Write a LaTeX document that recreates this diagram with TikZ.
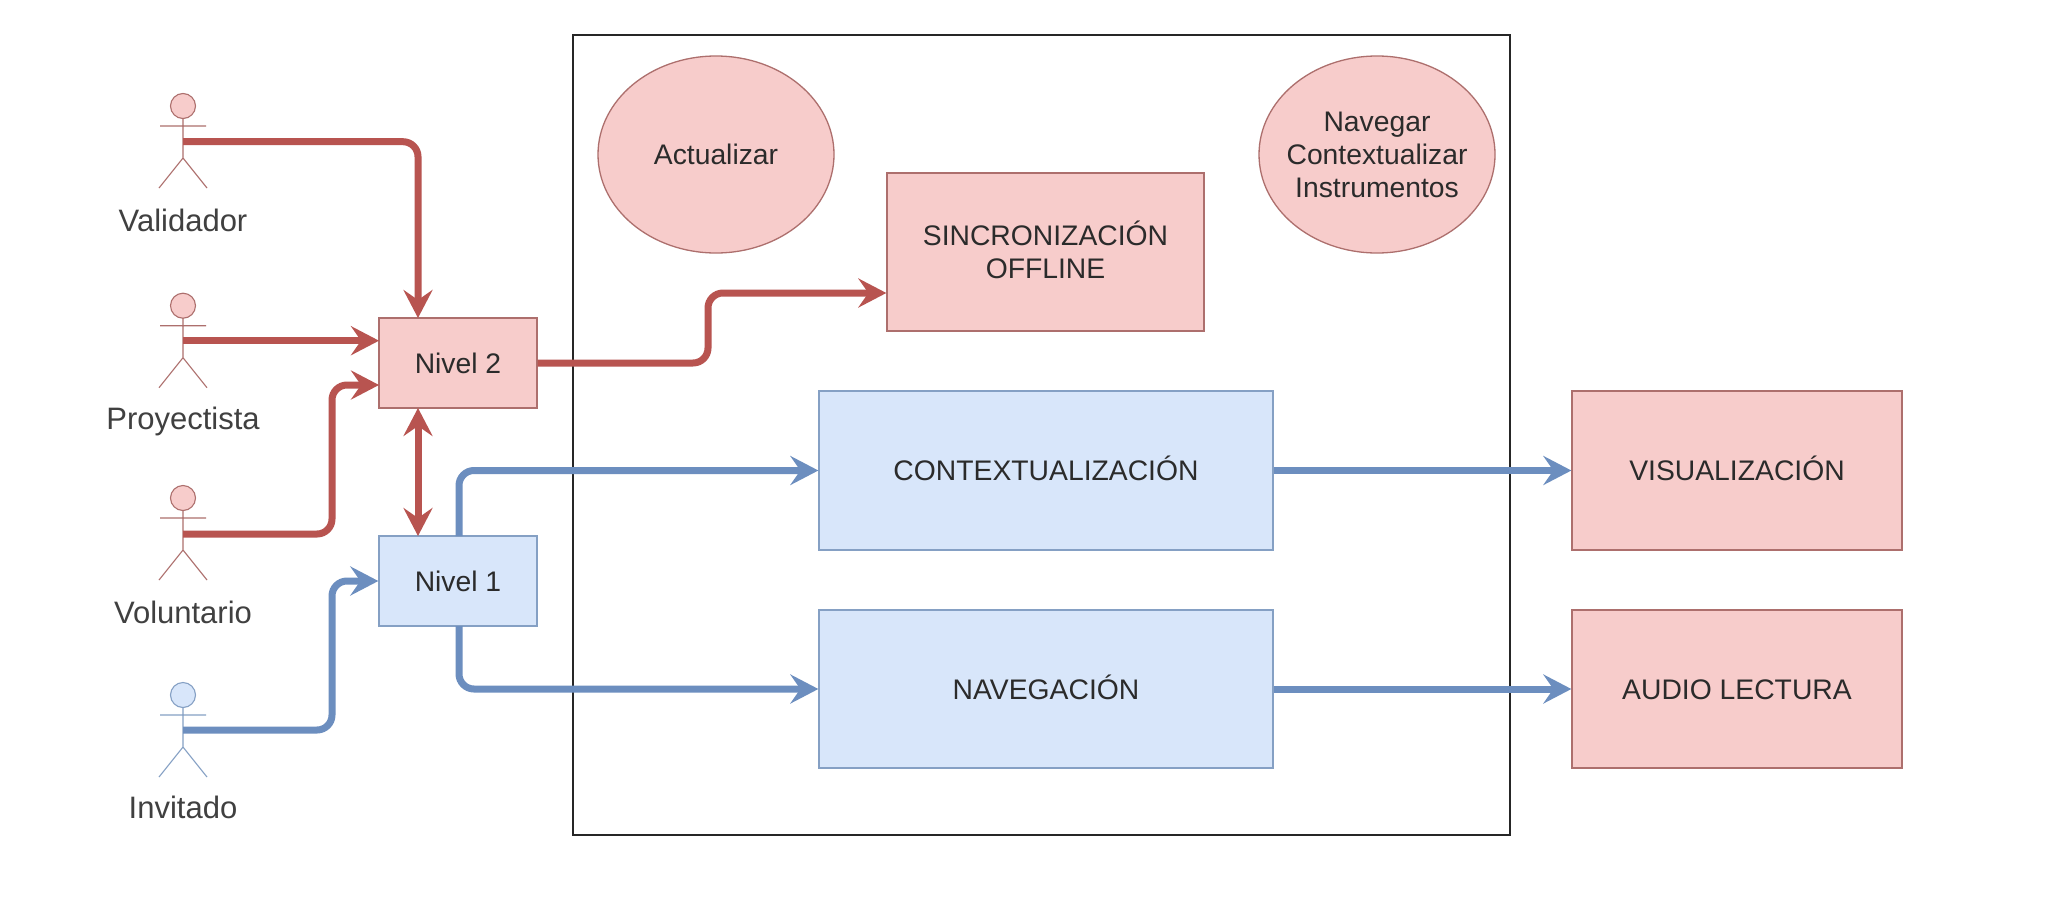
\documentclass[tikz,border=0pt]{standalone}
\usepackage{fontspec}
\setmainfont{Liberation Sans}
\usetikzlibrary{arrows.meta,calc,shapes.geometric}
\definecolor{rfill}{HTML}{F7CCCB}
\definecolor{rline}{HTML}{B85450}
\definecolor{rborder}{HTML}{AD6F6D}
\definecolor{bfill}{HTML}{D8E6FA}
\definecolor{bline}{HTML}{6C8EBF}
\definecolor{bborder}{HTML}{85A0C4}
\definecolor{ink}{HTML}{2B2B2B}
\tikzset{
  x=1pt,y=-1pt,
  every node/.style={text=ink,inner sep=0pt,align=center},
  lab/.style={font=\fontsize{28.3}{33}\selectfont},
  capline/.style={text height=20pt,text depth=0pt},
  actorlab/.style={font=\fontsize{31}{36}\selectfont,text=black!75,anchor=base},
  redbox/.style={draw=rborder,fill=rfill,line width=1.3pt,lab},
  bluebox/.style={draw=bborder,fill=bfill,line width=1.3pt,lab},
  redoval/.style={redbox,ellipse,inner xsep=-20pt,minimum width=236pt,minimum height=197pt},
  rededge/.style={draw=rline,line width=7pt,rounded corners=15pt,
    -{Stealth[length=28pt,width=29pt,inset=10pt]}},
  blueedge/.style={rededge,draw=bline},
  redboth/.style={rededge,{Stealth[length=28pt,width=29pt,inset=10pt]}-{Stealth[length=28pt,width=29pt,inset=10pt]}},
  stick/.style={line width=1.1pt},
}
% #1 x, #2 head centre y, #3 line colour, #4 fill colour
\newcommand{\stickman}[4]{%
  \draw[stick,draw=#3,fill=#4] (#1,#2) circle[radius=12.5];
  \draw[stick,draw=#3] (#1,#2+12.5) -- (#1,#2+52) (#1-23,#2+20) -- (#1+23,#2+20)
     (#1-24,#2+82) -- (#1,#2+52) -- (#1+24,#2+82);
}
\begin{document}
\begin{tikzpicture}
\useasboundingbox (0,0) rectangle (2052,910);
\fill[white] (0,0) rectangle (2052,910);

\node[draw=black!85,line width=1.3pt,minimum width=937pt,minimum height=800pt] (frame) at (1041.5,435) {};

\stickman{183}{106}{rborder}{rfill}
\stickman{183}{305.7}{rborder}{rfill}
\stickman{183}{498}{rborder}{rfill}
\stickman{183}{695}{bborder}{bfill}

\coordinate (val) at (183,141.7);
\coordinate (pro) at (183,340.7);
\coordinate (vol) at (183,534);
\coordinate (inv) at (183,730);

\node[actorlab] (tval) at (183,231) {Validador};
\node[actorlab] (tpro) at (183,429) {Proyectista};
\node[actorlab] (tvol) at (183,623) {Voluntario};
\node[actorlab] (tinv) at (183,818) {Invitado};

\node[redbox,capline,minimum width=158pt,minimum height=90pt] (n2) at (458,363) {Nivel 2};
\node[bluebox,capline,minimum width=158pt,minimum height=90pt] (n1) at (458,581) {Nivel 1};

\node[redoval] (act) at (716,154.5) {Actualizar};
\node[redoval] (nav) at (1377,154.5) {Navegar\\Contextualizar\\Instrumentos};

\node[redbox,text depth=5pt,minimum width=317pt,minimum height=158pt] (sin) at (1045.5,252) {SINCRONIZACIÓN\\OFFLINE};
\node[bluebox,capline,minimum width=454pt,minimum height=159pt] (con) at (1046,470.5) {CONTEXTUALIZACIÓN};
\node[bluebox,capline,minimum width=454pt,minimum height=158pt] (nvg) at (1046,689) {NAVEGACIÓN};
\node[redbox,capline,minimum width=330pt,minimum height=159pt] (vis) at (1737,470.5) {VISUALIZACIÓN};
\node[redbox,capline,minimum width=330pt,minimum height=158pt] (aud) at (1737,689) {AUDIO LECTURA};

\coordinate (n2t) at (418,318);
\coordinate (n2l) at (379,340.7);
\coordinate (n2l2) at (379,385);
\coordinate (n2b) at (418,408);
\coordinate (n1t) at (418,536);
\coordinate (n1tr) at (459,536);
\coordinate (n1br) at (459,626);

\draw[rededge] (val) -| (n2t);
\draw[rededge] (pro) -- (n2l);
\draw[rededge] (vol) -- (332,534) -- (332,385) -- (n2l2);
\draw[blueedge] (inv) -- (332,730) -- (332,581) -- (n1.west);
\draw[redboth] (n2b) -- (n1t);
\draw[rededge] (n2.east) -- (708,363) -- (708,293) -- (sin.west |- 0,293);
\draw[blueedge] (n1tr) |- (con.west);
\draw[blueedge] (n1br) |- (nvg.west);
\draw[blueedge] (con) -- (vis);
\draw[blueedge] (nvg) -- (aud);
\end{tikzpicture}
\end{document}
